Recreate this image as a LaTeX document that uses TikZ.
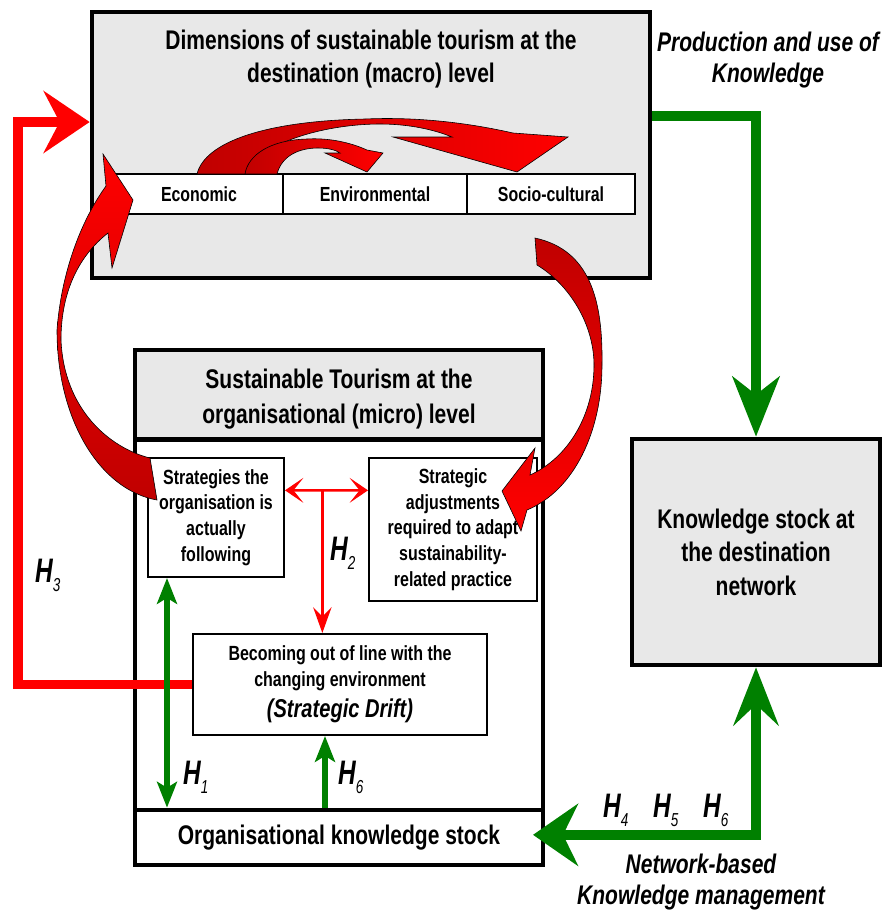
\documentclass[tikz,border=0pt]{standalone}
\usepackage{fontspec}
\setmainfont{Liberation Sans}[FakeStretch=0.78]
\newfontfamily\hfont{Liberation Sans}[FakeStretch=0.72]
\usetikzlibrary{arrows.meta,calc}
\definecolor{boxgray}{RGB}{232,232,232}
\definecolor{kgreen}{RGB}{0,128,0}
\definecolor{dred}{RGB}{192,0,0}
\definecolor{bred}{RGB}{255,0,0}
\newcommand{\tbig}{\fontsize{23}{28}\selectfont\bfseries}
\newcommand{\tmid}{\fontsize{17.5}{22}\selectfont\bfseries}
\newcommand{\tdim}{\fontsize{17.4}{20}\selectfont\bfseries}
\newcommand{\hsub}[1]{\raisebox{-7.7pt}{\fontsize{16}{16}\selectfont\mdseries\itshape #1}}
\begin{document}
\begin{tikzpicture}[x=0.03cm,y=-0.03cm,
  thickbox/.style={draw=black, line width=4pt, fill=boxgray, inner sep=0pt},
  thinbox/.style={draw=black, line width=1.7pt, fill=white, inner sep=0pt, align=center, font=\tmid},
  dimcell/.style={draw=black, line width=2pt, fill=white, inner sep=0pt, font=\tdim},
  hlab/.style={inner sep=0pt, anchor=base west, font=\hfont\fontsize{29}{29}\selectfont\bfseries\itshape},
  curvarrow/.style={draw=black, line width=0.5pt},
  gconn/.style={draw=kgreen, line width=8pt},
  rconn/.style={draw=bred, line width=8.5pt},
  gthin/.style={draw=kgreen, line width=5pt},
  rthin/.style={draw=bred, line width=2pt}
]
\useasboundingbox (0,0) rectangle (885,911);

% ---------- macro level box ----------
\node[thickbox, minimum width=16.74cm, minimum height=7.98cm] (macro) at (371,145) {};
\node[font=\tbig, align=center, inner sep=0pt] (macrotitle) at (371,59)
  {Dimensions of sustainable tourism at the\\destination (macro) level};
\node[dimcell, minimum width=5.04cm, minimum height=1.2cm] (eco) at (199,194) {Economic};
\node[dimcell, minimum width=5.52cm, minimum height=1.2cm] (env) at (375,194) {Environmental};
\node[dimcell, minimum width=5.04cm, minimum height=1.2cm] (soc) at (551,194) {Socio-cultural};

% arrows between dimensions
\draw[curvarrow, left color=dred, right color=bred]
  (197,174) -- (245,174) .. controls (262,140) and (330,124) .. (380,124)
  .. controls (410,124) and (435,130) .. (452,137) -- (393,137) -- (517,172) -- (568,137) -- (513,133)
  .. controls (460,121) and (410,117) .. (365,119) .. controls (265,121) and (205,142) .. (197,174) -- cycle;
\draw[curvarrow, left color=dred, right color=bred]
  (245,174) -- (277,174) .. controls (282,155) and (300,148) .. (318,148)
  .. controls (328,148) and (336,150) .. (340,153) -- (325,153) -- (367,172) -- (383,153) -- (367,150)
  .. controls (345,140) and (322,138) .. (307,139) .. controls (270,140) and (248,155) .. (245,174) -- cycle;

\node[font=\fontsize{23}{26.5}\selectfont\bfseries\itshape, align=center, inner sep=0pt] (prod) at (768,60)
  {Production and use of\\Knowledge};

% ---------- micro level box ----------
\node[thickbox, fill=white, minimum width=12.24cm, minimum height=15.45cm] (micro) at (339,607.5) {};
\node[thickbox, minimum width=12.24cm, minimum height=2.685cm] (microhead) at (339,394.75) {};
\node[align=center, inner sep=0pt, font=\fontsize{23}{30}\selectfont\bfseries] (microtitle) at (339,399)
  {Sustainable Tourism at the\\organisational (micro) level};
\node[thickbox, fill=white, minimum width=12.24cm, minimum height=1.65cm, font=\tbig] (orgks) at (339,837.5)
  {Organisational knowledge stock};

\node[thinbox, minimum width=4.08cm, minimum height=3.57cm] (strategies) at (216,517.5)
  {Strategies the\\organisation is\\actually\\following};
\node[thinbox, minimum width=5.04cm, minimum height=4.29cm] (adjust) at (453,529.5)
  {Strategic\\adjustments\\required to adapt\\sustainability-\\related practice};
\node[thinbox, minimum width=8.82cm, minimum height=3.03cm] (drift) at (340,684.5)
  {Becoming out of line with the\\changing environment\\[5pt]{\fontsize{22}{26}\selectfont\itshape (Strategic Drift)}};

% ---------- knowledge stock box ----------
\node[thickbox, minimum width=7.44cm, minimum height=6.78cm, align=center,
      font=\fontsize{23}{28.6}\selectfont\bfseries] (knowledge) at (756,552)
  {Knowledge stock at\\the destination\\network};

% ---------- connectors ----------
\draw[gconn, -{Stealth[length=51.2pt,width=40.1pt,inset=15.4pt]}]
  ([yshift=0.87cm]macro.east) -| (knowledge.north);
\draw[gconn, {Stealth[length=38.4pt,width=52.9pt,inset=12.8pt]}-{Stealth[length=49.5pt,width=38.4pt,inset=17.9pt]}]
  ([xshift=-0.37cm,yshift=0.08cm]orgks.east) -| (knowledge.south);

\coordinate (h3turn) at (18,122);
\draw[rconn, -{Stealth[length=39.3pt,width=52.9pt,inset=13.7pt]}]
  (drift.west) -| (h3turn) -- (h3turn -| macro.west);

\coordinate (h2l) at ([yshift=-1cm]strategies.north east);
\coordinate (h2r) at ([yshift=-1cm]adjust.north west);
\coordinate (h2m) at ($(h2l)!0.45!(h2r)$);
\draw[rthin, {Stealth[length=15.7pt,width=21.3pt,inset=8.5pt]}-{Stealth[length=15.7pt,width=21.3pt,inset=8.5pt]}]
  (h2l) -- (h2r);
\draw[rthin, -{Stealth[length=22pt,width=15.7pt,inset=8pt]}] (h2m) -- (h2m |- drift.north);

\coordinate (h1top) at ([xshift=0.6cm]strategies.south west);
\draw[gthin, {Stealth[length=22pt,width=17pt,inset=5pt]}-{Stealth[length=22pt,width=17pt,inset=5pt]}]
  (h1top) -- (h1top |- orgks.north);
\coordinate (h6x) at ([xshift=-0.45cm]drift.south);
\draw[gthin, -{Stealth[length=22pt,width=17pt,inset=5pt]}] (h6x |- orgks.north) -- (h6x);

% ---------- big curved arrows ----------
\draw[curvarrow, top color=bred, bottom color=dred]
  (157,500) -- (150,458) .. controls (110,448) and (64,410) .. (61,340)
  .. controls (61,290) and (80,255) .. (108,233) -- (112,268) -- (133,200) -- (103,154) -- (106,186)
  .. controls (85,215) and (62,265) .. (57,330) .. controls (57,420) and (100,490) .. (157,500) -- cycle;
\draw[curvarrow, top color=dred, bottom color=bred]
  (535,238) -- (537,265) .. controls (570,285) and (594,325) .. (594,365)
  .. controls (594,415) and (568,458) .. (530,475) -- (535,448) -- (502,491) -- (521,531) -- (527,510)
  .. controls (575,490) and (602,430) .. (602,365) .. controls (603,300) and (590,250) .. (535,238) -- cycle;

% ---------- labels ----------
\node[hlab] (h3) at (35,582) {H\hsub{3}};
\node[hlab] (h2) at (330,560) {H\hsub{2}};
\node[hlab] (h1) at (183,784) {H\hsub{1}};
\node[hlab] (h6a) at (338,784) {H\hsub{6}};
\node[hlab] (h4) at (603,817) {H\hsub{4}};
\node[hlab] (h5) at (653,817) {H\hsub{5}};
\node[hlab] (h6b) at (703,817) {H\hsub{6}};

\node[font=\fontsize{23}{27}\selectfont\bfseries\itshape, align=center, inner sep=0pt] (netkm) at (701,882)
  {Network-based\\Knowledge management};
\end{tikzpicture}
\end{document}
